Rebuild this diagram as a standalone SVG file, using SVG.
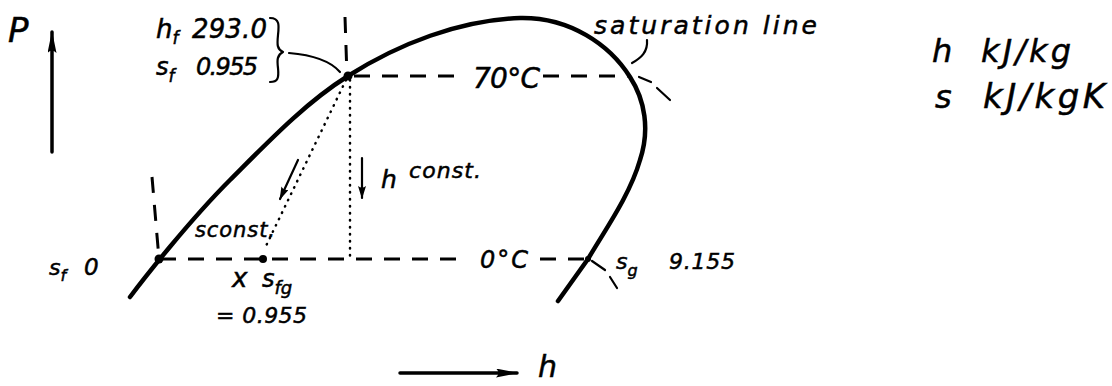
<svg xmlns="http://www.w3.org/2000/svg" width="1112" height="386" viewBox="0 0 1112 386">
<style>
.t{font-family:"DejaVu Sans","Liberation Sans",sans-serif;font-style:oblique;fill:#000;stroke:#000;stroke-width:0.5}
.ln{fill:none;stroke:#000;stroke-linecap:round;stroke-linejoin:round}
.curve{stroke-width:4.5}
.axis{stroke-width:3.5}
.dash{stroke-width:3;stroke-dasharray:16 12;stroke-linecap:butt}
.dot{stroke-width:2.5;stroke-dasharray:0.5 6.5}
.thin{stroke-width:2.2}
</style>
<defs>
<marker id="big" viewBox="0 0 22 9" refX="21" refY="4.5" markerWidth="22" markerHeight="9" markerUnits="userSpaceOnUse" orient="auto">
<path d="M0,0 L22,4.5 L0,9 Q5,4.5 0,0 z" fill="#000"/>
</marker>
<marker id="small" viewBox="0 0 13 8" refX="12" refY="4" markerWidth="13" markerHeight="8" markerUnits="userSpaceOnUse" orient="auto">
<path d="M0,0 L13,4 L0,8 Q3,4 0,0 z" fill="#000"/>
</marker>
</defs>
<rect width="1112" height="386" fill="#fff"/>

<g id="p-axis">
<line class="ln axis" x1="52" y1="152" x2="52" y2="32" marker-end="url(#big)"/>
<text class="t" x="8" y="42" font-size="34">P</text>
</g>
<g id="h-axis">
<line class="ln axis" x1="400" y1="373" x2="517" y2="373" marker-end="url(#big)"/>
<text class="t" x="538" y="377" font-size="30">h</text>
</g>

<g id="saturation-curve">
<path class="ln curve" d="M130,297 C145,277 190,220 230,180 C268,142 305,103 348,76 C398,44 460,20 520,18 C570,17 610,45 630,77 C645,100 650,130 640,160 C630,195 605,230 588,259 L558,301"/>
</g>

<g id="connectors">
<line class="ln dash" x1="160" y1="259" x2="465" y2="259"/>
<line class="ln dash" x1="540" y1="259" x2="588" y2="259" stroke-dasharray="20 10"/>
<line class="ln dash" x1="348" y1="76" x2="462" y2="76" stroke-dasharray="16 14" stroke-dashoffset="-6"/>
<line class="ln dash" x1="543" y1="76" x2="630" y2="76"/>
<line class="ln dash" x1="345" y1="17" x2="347" y2="76" stroke-dasharray="18 10"/>
<line class="ln dash" x1="152" y1="177" x2="159" y2="259" stroke-dasharray="16 12"/>
<line class="ln dot" x1="350" y1="80" x2="350" y2="259"/>
<line class="ln dot" x1="346" y1="80" x2="265" y2="248"/>
<line class="ln thin" x1="362" y1="158" x2="362" y2="198" marker-end="url(#small)"/>
<line class="ln thin" x1="298" y1="160" x2="280" y2="199" marker-end="url(#small)"/>
<path class="ln thin" d="M289,53 Q326,56 340,72"/>
<path class="ln thin" d="M647,40 C648,52 641,58 632,63"/>
<path class="ln thin" d="M639,77 L651,82 M657,88 L670,100"/>
<path class="ln thin" d="M592,261 L605,270 M610,277 L617,288"/>
<path class="ln thin" d="M270,18 C280,18 279,26 278,35 C277,45 277,49 283,52 C277,55 277,60 278,68 C279,78 278,82 270,82"/>
</g>

<g id="points">
<circle cx="348" cy="76" r="4.5"/>
<circle cx="159" cy="259" r="4.5"/>
<circle cx="588" cy="259" r="3"/>
<circle cx="263" cy="259" r="4"/>
</g>

<g id="label-hf-sf">
<text class="t" x="156" y="38" font-size="26">h<tspan font-size="17" dy="6">f</tspan><tspan dy="-6" x="192" textLength="75">293.0</tspan></text>
<text class="t" x="156" y="75" font-size="24">s<tspan font-size="17" dy="7">f</tspan><tspan dy="-7" x="196" textLength="62">0.955</tspan></text>
</g>
<g id="label-70C"><text class="t" x="473" y="88" font-size="28" textLength="67">70°C</text></g>
<g id="label-0C"><text class="t" x="480" y="268" font-size="24" textLength="48">0°C</text></g>
<g id="label-hconst"><text class="t" x="381" y="188" font-size="25">h<tspan x="409" y="178" font-size="22" textLength="72">const.</tspan></text></g>
<g id="label-sconst"><text class="t" x="195" y="237" font-size="21" textLength="80">sconst.</text></g>
<g id="label-xsfg">
<text class="t" x="232" y="287" font-size="26">x<tspan x="262" font-size="24">s</tspan><tspan font-size="18" dy="7">fg</tspan></text>
<text class="t" x="216" y="323" font-size="22" textLength="91">= 0.955</text>
</g>
<g id="label-sf0"><text class="t" x="49" y="275" font-size="22">s<tspan font-size="16" dy="6">f</tspan><tspan dy="-6" x="84" font-size="23">0</tspan></text></g>
<g id="label-sg"><text class="t" x="616" y="269" font-size="22">s<tspan font-size="16" dy="7">g</tspan><tspan dy="-7" x="669" font-size="22" textLength="66">9.155</tspan></text></g>
<g id="label-saturation"><text class="t" x="594" y="34" font-size="25" textLength="223">saturation line</text></g>
<g id="legend">
<text class="t" x="932" y="62" font-size="32">h<tspan x="981" textLength="90">kJ/kg</tspan></text>
<text class="t" x="935" y="108" font-size="32">s<tspan x="983" font-size="34" textLength="122">kJ/kgK</tspan></text>
</g>
</svg>
